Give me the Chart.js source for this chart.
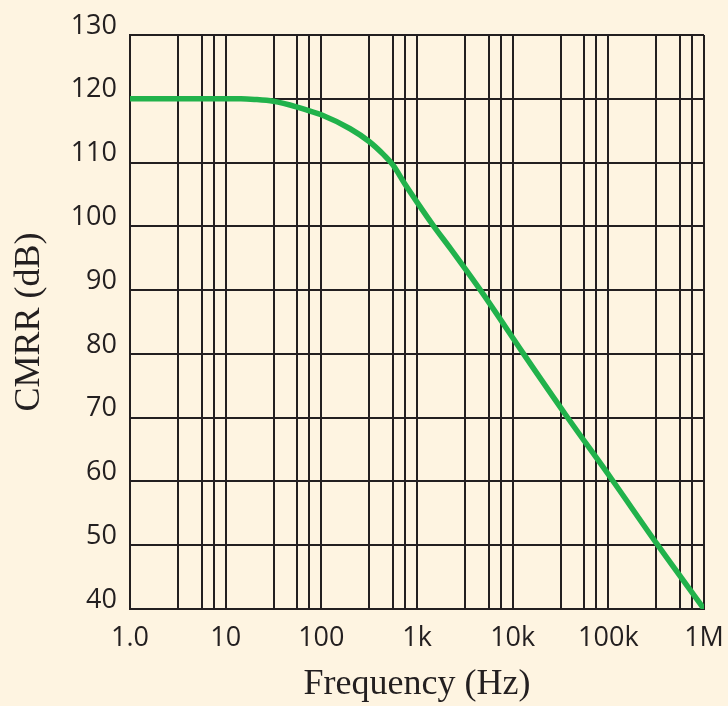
<!DOCTYPE html>
<html>
<head>
<meta charset="utf-8">
<script src="https://cdn.jsdelivr.net/npm/chart.js@4.4.0/dist/chart.umd.min.js"></script>
<style>
  html, body { margin: 0; padding: 0; background: #fef4e1; }
  canvas { display: block; }
</style>
</head>
<body>
<canvas id="cmrrChart" width="728" height="706"></canvas>
<script>
// values
const freq = [1, 10, 14.4, 20, 31.6, 56, 75, 100, 200, 316, 450, 562, 750, 1000, 1500, 2240, 4800, 13000, 35600, 109000, 322000, 1000000];
const cmrr = [120, 120, 120, 119.9, 119.6, 118.7, 118.1, 117.5, 115.3, 113.3, 111.2, 109.6, 106.6, 103.8, 100, 96.5, 89.6, 80, 70.5, 60.3, 50.2, 40];

const xDecades = [1, 10, 100, 1000, 10000, 100000, 1000000];
const xTickLabels = ["1.0", "10", "100", "1k", "10k", "100k", "1M"];
const xSubSteps = [0.5, 0.75, 0.875]; // grid lines inside each decade (fraction of decade)
const yTicks = [40, 50, 60, 70, 80, 90, 100, 110, 120, 130];

const ink = "#231f20";
const green = "#21b24b";

const xGrid = [];
xDecades.forEach((d, i) => {
  xGrid.push(d);
  if (i < xDecades.length - 1) xSubSteps.forEach(s => xGrid.push(d * Math.pow(10, s)));
});

const ctx = document.getElementById("cmrrChart").getContext("2d");
const cmrrChart = new Chart(ctx, {
  type: "line",
  data: {
    datasets: [
      {
        label: "CMRR",
        data: freq.map((f, i) => ({ x: f, y: cmrr[i] })),
        borderColor: green,
        borderWidth: 5.5,
        pointRadius: 0,
        cubicInterpolationMode: "monotone",
        fill: false,
      },
    ],
  },
  options: {
    responsive: false,
    animation: false,
    layout: { padding: { top: 35, right: 24, bottom: 0, left: 0 } },
    plugins: { legend: { display: false }, tooltip: { enabled: false } },
    scales: {
      x: {
        type: "logarithmic",
        min: 1,
        max: 1000000,
        z: 1,
        afterBuildTicks: (scale) => {
          scale.ticks = xGrid.map(v => ({ value: v }));
        },
        afterFit: (scale) => {
          scale.height = 97;
          scale.paddingLeft = 0;
          scale.paddingRight = 0;
        },
        grid: { color: ink, lineWidth: 2, drawTicks: false },
        border: { color: ink, width: 2 },
        ticks: {
          autoSkip: false,
          maxRotation: 0,
          padding: 13,
          color: ink,
          font: { family: "Open Sans", size: 27 },
          callback: (v) => {
            const i = xDecades.indexOf(v);
            return i >= 0 ? xTickLabels[i] : "";
          },
        },
        title: {
          display: true,
          text: "Frequency (Hz)",
          color: ink,
          padding: { top: 0, bottom: 0 },
          font: { family: "Liberation Serif", size: 36 },
        },
      },
      y: {
        min: 40,
        max: 130,
        z: 1,
        afterBuildTicks: (scale) => {
          scale.ticks = yTicks.map(v => ({ value: v }));
        },
        afterFit: (scale) => {
          scale.width = 130;
          scale.paddingTop = 0;
          scale.paddingBottom = 0;
        },
        grid: { color: ink, lineWidth: 2, drawTicks: false },
        border: { color: ink, width: 2 },
        ticks: {
          padding: 13,
          labelOffset: -9,
          color: ink,
          font: { family: "Open Sans", size: 27 },
        },
        title: {
          display: true,
          text: "CMRR (dB)",
          color: ink,
          padding: { top: 8, bottom: 0 },
          font: { family: "Liberation Serif", size: 36 },
        },
      },
    },
  },
});
</script>
</body>
</html>
